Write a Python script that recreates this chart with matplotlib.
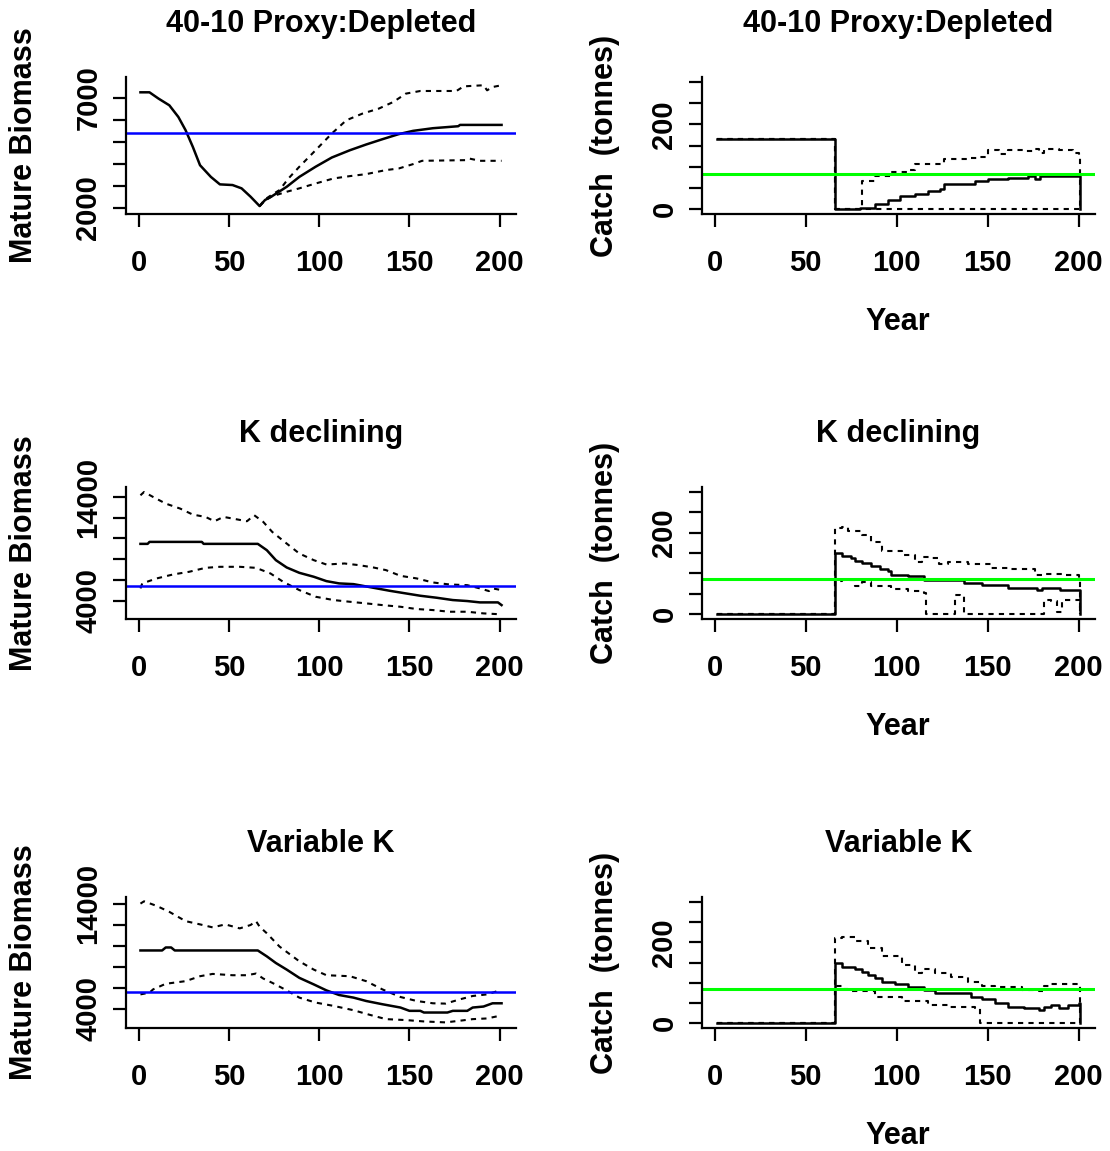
import matplotlib
matplotlib.use("Agg")
import matplotlib.pyplot as plt

plt.rcParams['font.family'] = ['Liberation Sans', 'DejaVu Sans']
plt.rcParams['font.weight'] = 'bold'

# ---- data ----
# 40-10 Proxy:Depleted, mature biomass
b1_yrs = [1, 6, 11, 17, 22, 26, 30, 34, 40, 45, 52, 57, 62, 67, 70, 74, 82, 89, 98,
          107, 117, 126, 135, 144, 152, 163, 177, 178, 201]
b1_med = [7240, 7240, 6955, 6650, 6120, 5520, 4765, 3930, 3400, 3060, 3030, 2880, 2500,
          2075, 2350, 2530, 2950, 3400, 3860, 4280, 4610, 4870, 5110, 5340, 5490, 5610,
          5700, 5760, 5760]
b1_up_yrs = [67, 70, 74, 78, 83, 89, 98, 107, 115, 124, 133, 141, 148, 156, 176, 180,
             191, 193, 196, 201]
b1_up = [2075, 2380, 2600, 2800, 3330, 3860, 4610, 5370, 5970, 6275, 6500, 6800, 7180,
         7300, 7300, 7510, 7560, 7330, 7480, 7560]
b1_lo_yrs = [67, 70, 74, 82, 89, 98, 108, 117, 126, 137, 144, 152, 157, 181, 183, 189, 201]
b1_lo = [2075, 2330, 2520, 2725, 2880, 3100, 3330, 3435, 3525, 3710, 3780, 3980, 4130,
         4160, 4235, 4130, 4130]
b1_ref = 5410

# 40-10 Proxy:Depleted, catch
c1_yrs = [1, 66, 80, 88, 95, 102, 110, 117, 124, 126, 141, 143, 150, 161, 172, 176, 179, 201]
c1_med = [165, 0, 3, 12, 21, 30, 36, 42, 48, 59, 60, 66, 71, 73, 77, 71, 77, 0]
c1_up_yrs = [1, 66, 81, 88, 97, 106, 110, 121, 126, 139, 146, 150, 156, 161, 170, 176,
             178, 181, 189, 197, 200, 201]
c1_up = [165, 0, 66, 77, 88, 93, 106, 107, 118, 121, 122, 139, 131, 139, 137, 141, 132,
         141, 140, 132, 126, 0]
c1_lo_yrs = [1, 66, 201]
c1_lo = [165, 0, 0]
c1_ref = 83

# K declining, mature biomass
b2_yrs = [1, 5, 6, 35, 36, 66, 71, 76, 82, 89, 97, 104, 111, 119, 130, 139, 148, 156,
          165, 174, 182, 189, 199, 201]
b2_med = [9480, 9480, 9670, 9670, 9480, 9480, 8870, 7910, 7205, 6690, 6310, 5890, 5670,
          5600, 5250, 4960, 4705, 4480, 4290, 4065, 3970, 3840, 3840, 3580]
b2_up_yrs = [1, 3, 8, 15, 23, 30, 37, 42, 47, 52, 60, 64, 69, 74, 82, 89, 97, 104, 114,
             122, 130, 137, 145, 154, 163, 172, 182, 189, 194, 196, 201]
b2_up = [14160, 14480, 14000, 13360, 12880, 12300, 12080, 11660, 12080, 11920, 11660,
         12240, 11600, 10630, 9510, 8550, 7910, 7490, 7590, 7430, 7205, 6950, 6400, 6150,
         5760, 5570, 5500, 5190, 4930, 5190, 5025]
b2_lo_yrs = [1, 2, 10, 19, 28, 37, 45, 56, 65, 73, 80, 89, 98, 108, 117, 126, 135, 145,
             154, 163, 172, 182, 191, 201]
b2_lo = [5190, 5670, 6150, 6530, 6790, 7170, 7270, 7270, 7170, 6630, 5830, 5025, 4385,
         4065, 3900, 3745, 3580, 3420, 3200, 3100, 2940, 2940, 2780, 2690]
b2_ref = 5410

# K declining, catch
c2_yrs = [1, 66, 68, 70, 75, 77, 81, 86, 91, 95, 97, 106, 115, 136, 137, 147, 161, 177,
          180, 190, 201]
c2_med = [1, 150, 150, 142, 138, 131, 126, 118, 111, 105, 96, 93, 83, 83, 77, 71, 65, 58,
          63, 58, 0]
c2_up_yrs = [1, 66, 70, 73, 81, 86, 92, 103, 110, 114, 119, 123, 128, 139, 152, 161, 176,
             181, 191, 200, 201]
c2_up = [1, 212, 215, 203, 195, 178, 156, 146, 128, 140, 138, 123, 128, 122, 114, 110,
         96, 99, 97, 85, 0]
c2_lo_yrs = [1, 66, 70, 77, 81, 86, 97, 106, 115, 116, 132, 135, 137, 181, 185, 188, 191, 201]
c2_lo = [1, 81, 83, 69, 80, 69, 61, 57, 53, 0, 47, 45, 0, 34, 32, 4, 34, 0]
c2_ref = 87

# Variable K, mature biomass
b3_yrs = [1, 13, 15, 18, 20, 66, 71, 76, 82, 89, 97, 104, 111, 119, 126, 135, 145, 150,
          156, 158, 171, 174, 182, 185, 191, 196, 201]
b3_med = [9535, 9535, 9820, 9820, 9535, 9535, 8970, 8340, 7710, 6925, 6300, 5730, 5290,
          5040, 4720, 4410, 4095, 3780, 3780, 3620, 3620, 3780, 3780, 4095, 4190, 4500, 4500]
b3_up_yrs = [1, 3, 10, 17, 26, 34, 41, 48, 56, 62, 65, 67, 71, 78, 89, 97, 104, 117, 126,
             135, 145, 154, 163, 170, 178, 185, 193, 200]
b3_up = [14000, 14220, 13780, 13215, 12330, 12020, 11735, 12020, 11640, 11960, 12330,
         11800, 11170, 9910, 8500, 7710, 7175, 7080, 6610, 5825, 5100, 4720, 4500, 4470,
         4880, 5195, 5350, 5730]
b3_lo_yrs = [1, 6, 8, 15, 26, 34, 41, 52, 60, 65, 69, 74, 82, 89, 98, 108, 119, 128, 137,
             148, 158, 170, 178, 185, 193, 200]
b3_lo = [5350, 5510, 5825, 6360, 6610, 7080, 7300, 7175, 7175, 7335, 6860, 6450, 5730,
         5040, 4570, 4250, 3840, 3400, 2990, 2900, 2770, 2680, 2840, 2990, 3055, 3310]
b3_ref = 5570

# Variable K, catch
c3_yrs = [1, 66, 69, 70, 73, 77, 81, 84, 88, 92, 99, 106, 115, 121, 141, 147, 154, 161,
          170, 176, 178, 181, 185, 189, 194, 200, 201]
c3_med = [1, 150, 148, 140, 138, 134, 127, 119, 111, 103, 97, 89, 81, 75, 65, 59, 51, 41,
          38, 37, 32, 41, 45, 38, 45, 49, 0]
c3_up_yrs = [1, 66, 70, 77, 84, 92, 103, 110, 114, 121, 130, 139, 147, 154, 169, 178, 181,
             185, 201]
c3_up = [1, 211, 213, 203, 187, 165, 144, 124, 134, 124, 114, 103, 93, 89, 81, 79, 93, 97, 0]
c3_lo_yrs = [1, 66, 70, 73, 88, 103, 117, 128, 143, 146, 201]
c3_lo = [1, 93, 85, 79, 65, 54, 46, 41, 38, 0, 0]
c3_ref = 85

titles = ["40-10 Proxy:Depleted", "K declining", "Variable K"]
x_ticks = [0, 50, 100, 150, 200]

# ---- layout (pixels) ----
W, H = 1110, 1151
fig = plt.figure(figsize=(W / 100, H / 100), dpi=100)

rows = [(77, 214), (487, 619), (897, 1028)]
cols = [(126, 516), (702, 1095)]
DASH = (0, (2.5, 2.5))
FS_TICK = 21
FS_LAB = 22


def make_axes(col, row):
    l, r = cols[col]
    t, b = rows[row]
    ax = fig.add_axes([l / W, 1 - b / H, (r - l) / W, (b - t) / H])
    for s in ['top', 'right']:
        ax.spines[s].set_visible(False)
    for s in ['left', 'bottom']:
        ax.spines[s].set_linewidth(1.6)
    ax.set_xlim(-7, 209)
    ax.set_xticks(x_ticks)
    ax.set_xticklabels([str(v) for v in x_ticks])
    ax.tick_params(axis='x', length=9.5, width=1.6, pad=16, labelsize=FS_TICK)
    ax.tick_params(axis='y', length=9.5, width=1.6, pad=7.5, labelsize=FS_TICK,
                   labelrotation=90)
    return ax


def finish_y(ax, ticks, labels):
    ax.set_yticks(ticks)
    ax.set_yticklabels(labels)
    for lab in ax.get_yticklabels():
        lab.set_va('center')


bio = [(b1_yrs, b1_med, b1_up_yrs, b1_up, b1_lo_yrs, b1_lo, b1_ref, (1715, 7935)),
       (b2_yrs, b2_med, b2_up_yrs, b2_up, b2_lo_yrs, b2_lo, b2_ref, (2240, 14960)),
       (b3_yrs, b3_med, b3_up_yrs, b3_up, b3_lo_yrs, b3_lo, b3_ref, (2145, 14630))]
catch = [(c1_yrs, c1_med, c1_up_yrs, c1_up, c1_lo_yrs, c1_lo, c1_ref),
         (c2_yrs, c2_med, c2_up_yrs, c2_up, c2_lo_yrs, c2_lo, c2_ref),
         (c3_yrs, c3_med, c3_up_yrs, c3_up, c3_lo_yrs, c3_lo, c3_ref)]

for i in range(3):
    # biomass panel
    yrs, med, uy, up, ly, lo, ref, ylim = bio[i]
    ax = make_axes(0, i)
    ax.plot(uy, up, color='k', lw=1.5, ls=DASH)
    ax.plot(ly, lo, color='k', lw=1.5, ls=DASH)
    ax.plot(yrs, med, color='k', lw=1.8)
    ax.axhline(ref, color='#0000ff', lw=1.8)
    ax.set_ylim(*ylim)
    if i == 0:
        finish_y(ax, [2000, 3000, 4000, 5000, 6000, 7000],
                 ['2000', '', '', '', '', '7000'])
    else:
        finish_y(ax, [4000, 6000, 8000, 10000, 12000, 14000],
                 ['4000', '', '', '', '', '14000'])

    # catch panel
    yrs, med, uy, up, ly, lo, ref = catch[i]
    ax = make_axes(1, i)
    ax.plot(uy, up, color='k', lw=1.5, ls=DASH, drawstyle='steps-post')
    ax.plot(ly, lo, color='k', lw=1.5, ls=DASH, drawstyle='steps-post')
    ax.plot(yrs, med, color='k', lw=1.8, drawstyle='steps-post')
    ax.axhline(ref, color='#00ff00', lw=2.2)
    ax.set_ylim(-12, 312)
    finish_y(ax, [0, 50, 100, 150, 200, 250, 300],
             ['0', '', '', '', '200', '', ''])

    # titles and axis labels
    top, bot = rows[i]
    for c in range(2):
        l, r = cols[c]
        fig.text((l + r) / 2 / W, 1 - (top - 53) / H, titles[i], ha='center',
                 va='center', fontsize=FS_LAB, fontweight='bold')
    fig.text(24 / W, 1 - (top + bot) / 2 / H, 'Mature Biomass', rotation=90,
             ha='center', va='center', fontsize=FS_LAB, fontweight='bold')
    fig.text(605 / W, 1 - (top + bot) / 2 / H, 'Catch  (tonnes)', rotation=90,
             ha='center', va='center', fontsize=FS_LAB, fontweight='bold')
    fig.text(898 / W, 1 - (bot + 108) / H, 'Year', ha='center', va='center',
             fontsize=FS_LAB, fontweight='bold')

fig.savefig('out.png', dpi=100)
